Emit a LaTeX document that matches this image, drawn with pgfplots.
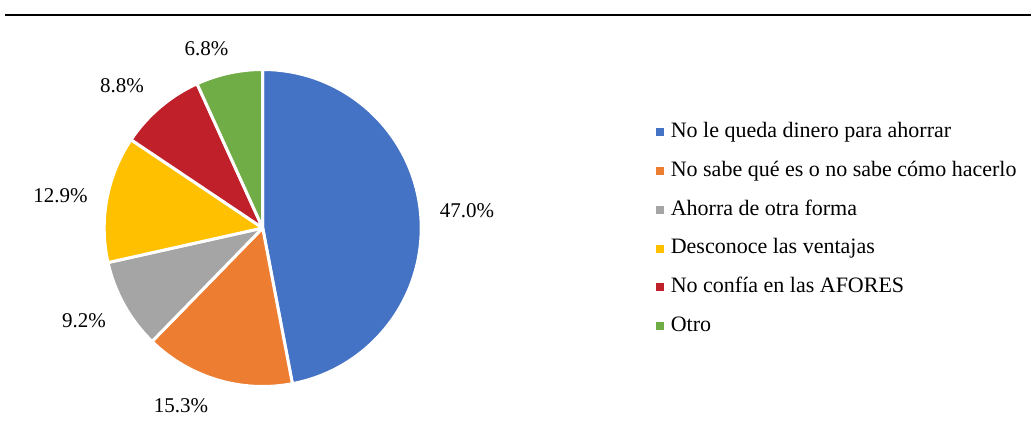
\documentclass[border=0pt]{standalone}
\usepackage{fontspec}
\setmainfont{Liberation Serif}
\usepackage{pgfplots}
\pgfplotsset{compat=1.18}
\usepackage{pgfplotstable}

\definecolor{cblue}{HTML}{4472C4}
\definecolor{corange}{HTML}{ED7D31}
\definecolor{cgray}{HTML}{A5A5A5}
\definecolor{cyellow}{HTML}{FFC000}
\definecolor{cred}{HTML}{C0202A}
\definecolor{cgreen}{HTML}{70AD47}

% share (%), slice colour, label baseline position (px, y downwards)
\pgfplotstableread{
value color lx ly
47.0 cblue 467 218
15.3 corange 181 413
9.2 cgray 84 328
12.9 cyellow 60.5 203
8.8 cred 122 93
6.8 cgreen 206.5 56
}\piedata

\begin{document}
\begin{tikzpicture}
\useasboundingbox (0,0) rectangle (515.5bp,218.5bp);
\begin{axis}[
  scale only axis, width=515.5bp, height=218.5bp,
  xmin=0, xmax=1031, ymin=-437, ymax=0,
  hide axis, clip=false,
  legend cell align=left,
  legend image code/.code={\fill[#1] (0bp,-1.75bp) rectangle (3.5bp,1.75bp);},
  legend style={draw=none, fill=none, inner sep=0pt, outer sep=0pt,
    at={(axis cs:656,-122.3)}, anchor=north west,
    font=\fontsize{11bp}{13bp}\selectfont,
    row sep=9.95bp, column sep=3.5bp,
    nodes={inner sep=0pt, text height=7.5bp, text depth=2bp}},
]
\addlegendimage{cblue}\addlegendentry{No le queda dinero para ahorrar}
\addlegendimage{corange}\addlegendentry{No sabe qué es o no sabe cómo hacerlo}
\addlegendimage{cgray}\addlegendentry{Ahorra de otra forma}
\addlegendimage{cyellow}\addlegendentry{Desconoce las ventajas}
\addlegendimage{cred}\addlegendentry{No confía en las AFORES}
\addlegendimage{cgreen}\addlegendentry{Otro}

\pgfplotsextra{%
  \draw[line width=1.2bp] (axis cs:5,-14.8) -- (axis cs:1031,-14.8);
  \pgfplotstablegetrowsof{\piedata}%
  \pgfmathtruncatemacro\lastrow{\pgfplotsretval-1}%
  \xdef\startang{90}%
  \foreach \i in {0,...,\lastrow}{%
    \pgfplotstablegetelem{\i}{value}\of\piedata \let\val\pgfplotsretval
    \pgfplotstablegetelem{\i}{color}\of\piedata \let\col\pgfplotsretval
    \pgfplotstablegetelem{\i}{lx}\of\piedata \let\lx\pgfplotsretval
    \pgfplotstablegetelem{\i}{ly}\of\piedata \let\ly\pgfplotsretval
    \pgfmathsetmacro\endang{\startang-3.6*\val}%
    \fill[\col, draw=white, line width=1.5bp, line join=round]
      (axis cs:262.7,-228) -- ++(\startang:79.25bp)
      arc[start angle=\startang, end angle=\endang, radius=79.25bp] -- cycle;
    \node[anchor=base, inner sep=0pt, font=\fontsize{10.5bp}{12bp}\selectfont]
      at (axis cs:\lx,-\ly)
      {\pgfmathprintnumber[fixed, fixed zerofill, precision=1, assume math mode=true]{\val}\%};
    \global\let\startang\endang
  }%
}
\end{axis}
\end{tikzpicture}
\end{document}
